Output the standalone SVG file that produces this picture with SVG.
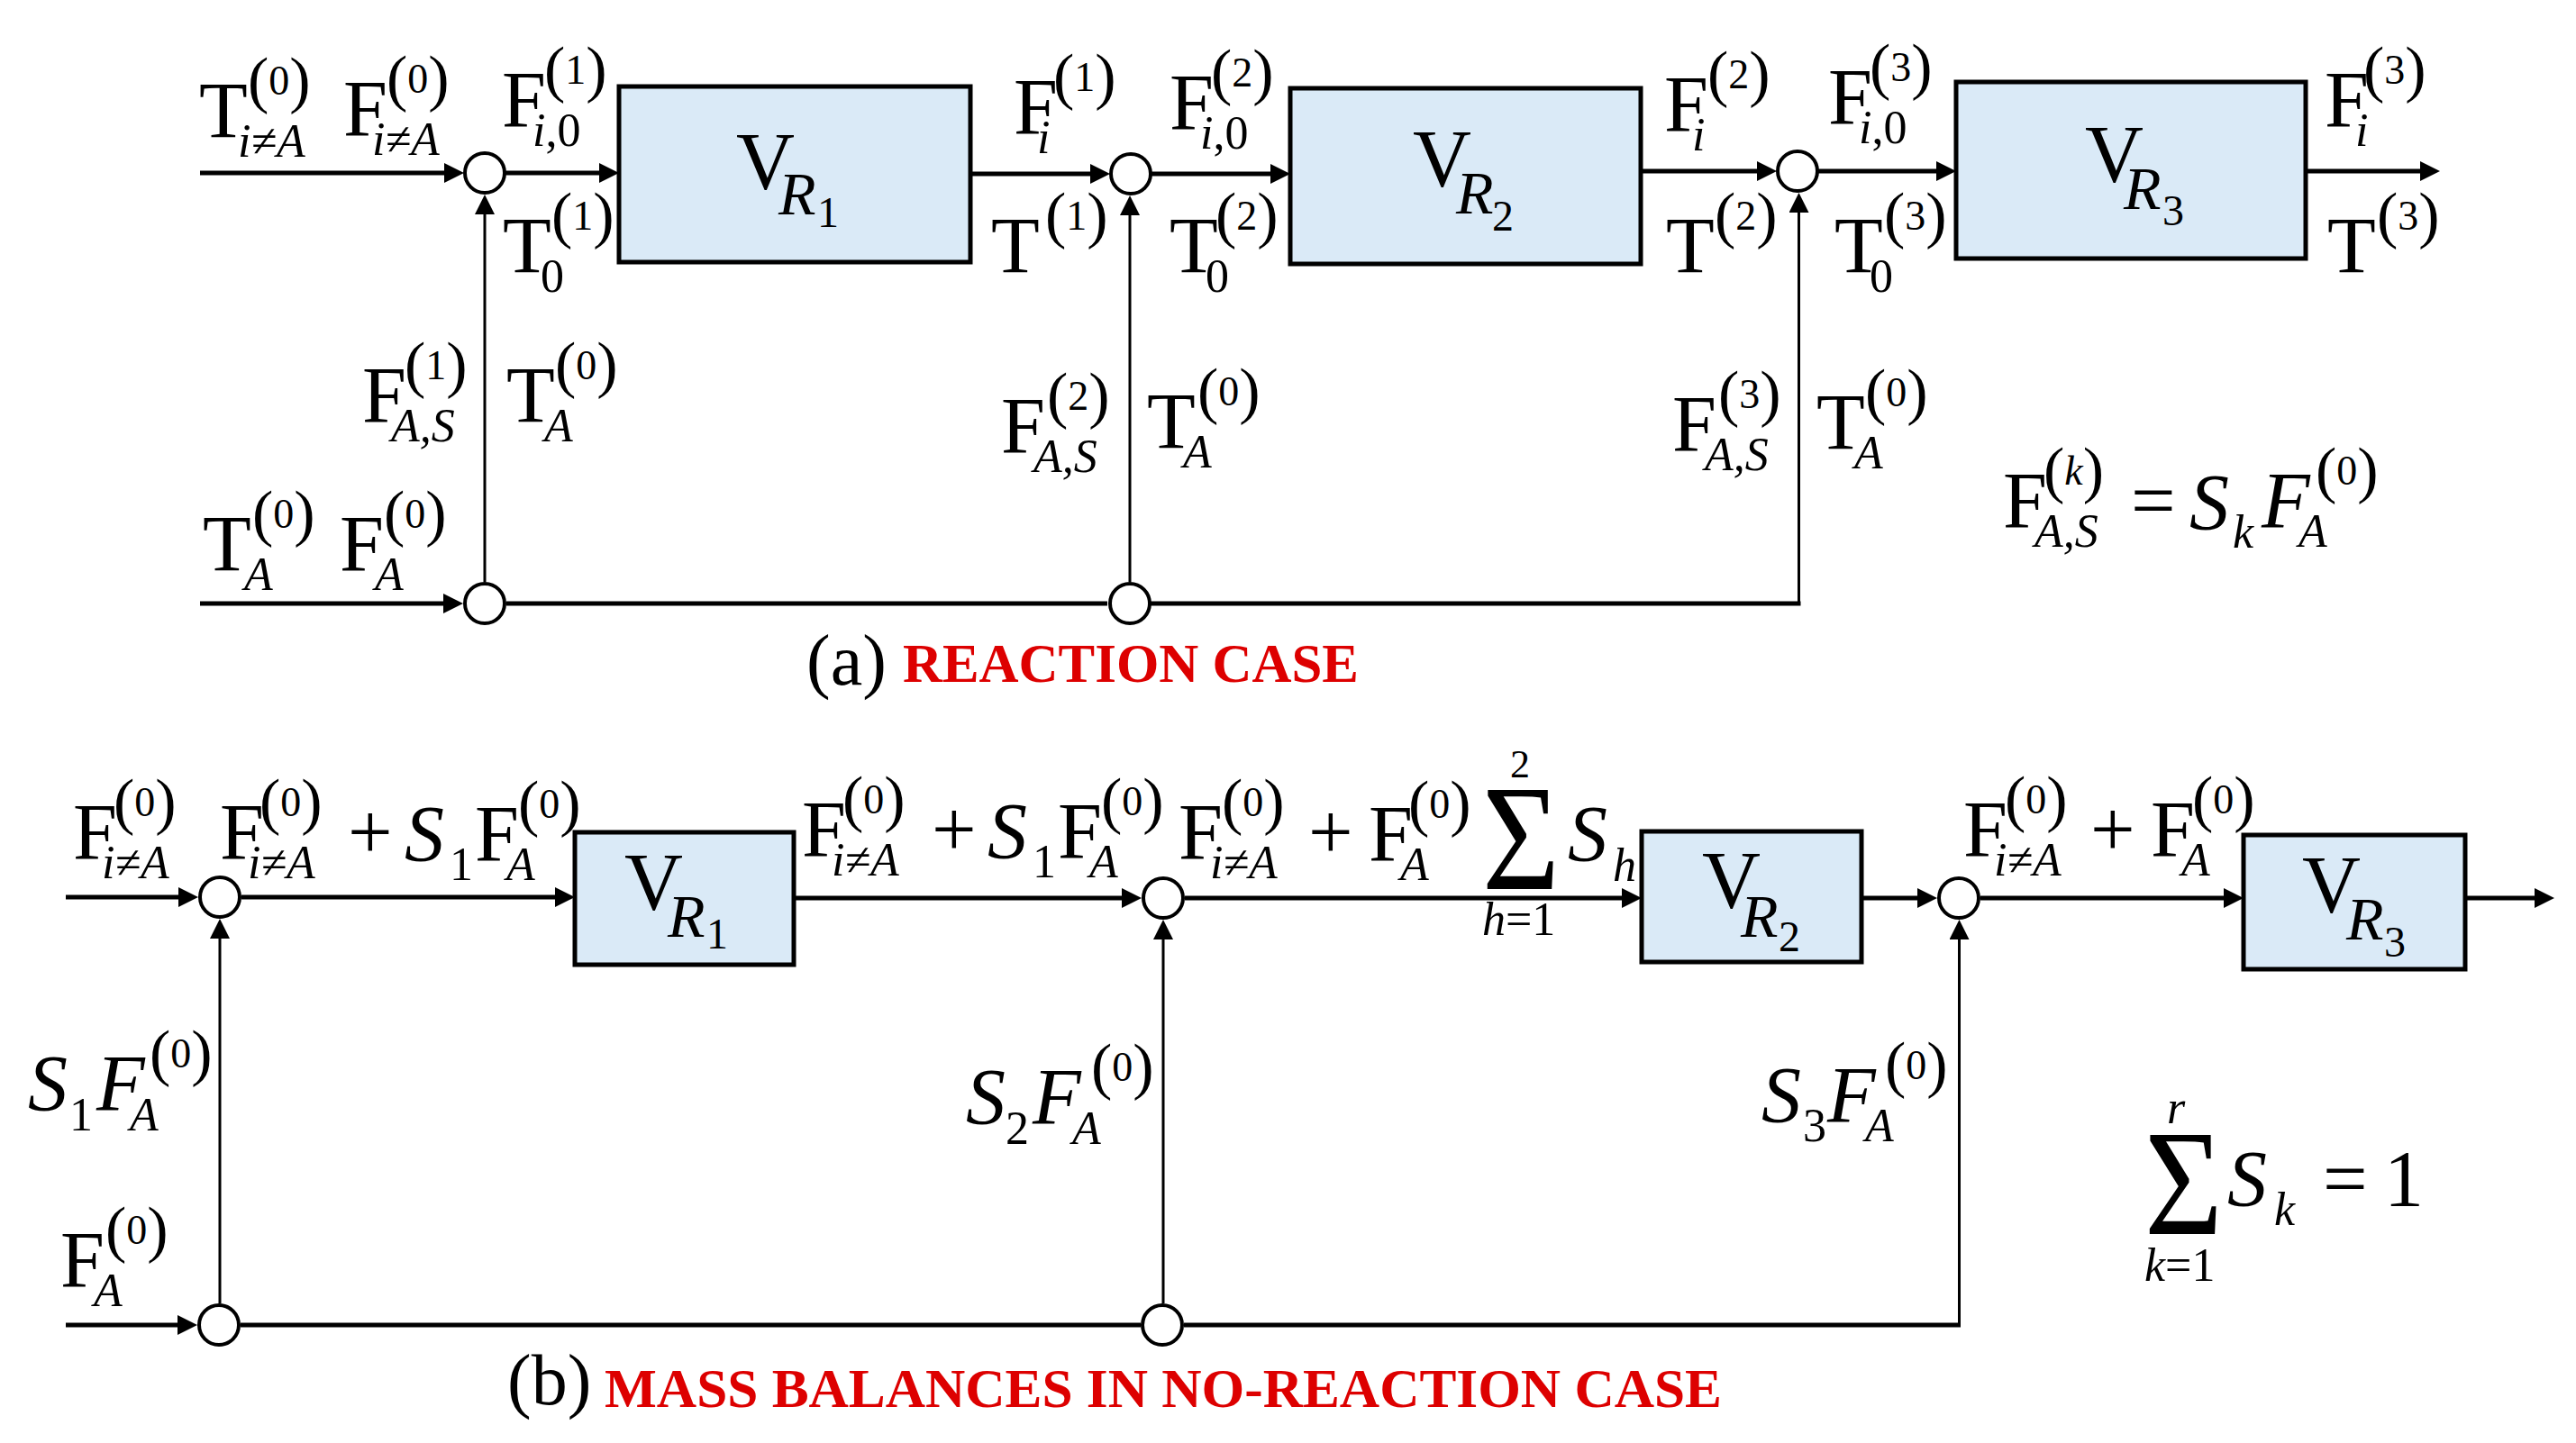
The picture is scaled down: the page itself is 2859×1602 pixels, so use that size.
<svg xmlns="http://www.w3.org/2000/svg" width="2859" height="1602" viewBox="0 0 2859 1602">
<style>
text { font-family: "Liberation Serif", "Times New Roman", serif; fill: #000; }
.m { font-size: 88px; }
.mi { font-size: 88px; font-style: italic; }
.p { font-size: 70px; }
.d { font-size: 46px; }
.di { font-size: 46px; font-style: italic; }
.b { font-size: 52px; font-style: italic; }
.bu { font-size: 52px; }
.v { font-size: 90px; }
.r { font-size: 68px; font-style: italic; }
.rn { font-size: 48px; }
.cap { font-size: 80px; }
.red { font-size: 62px; font-weight: bold; fill: #DD0000; }
.box { fill: #DAEAF7; stroke: #000; stroke-width: 5; }
.jn { fill: #fff; stroke: #000; stroke-width: 4; }
.w { fill: none; stroke: #000; stroke-width: 5; }
.wa { fill: none; stroke: #000; stroke-width: 5; marker-end: url(#ah); }
.t { fill: none; stroke: #000; stroke-width: 3; marker-end: url(#ah); }
</style>
<defs>
<marker id="ah" markerUnits="userSpaceOnUse" markerWidth="22" markerHeight="22" viewBox="0 0 22 22" refX="4" refY="11" orient="auto">
<path d="M0,0 L22,11 L0,22 z" fill="#000"/>
</marker>
</defs>
<rect width="2859" height="1602" fill="#fff"/>

<g id="connectors">
<!-- part (a) -->
<path class="wa" d="M222,192 H497"/>
<path class="wa" d="M561,192 H669"/>
<path class="wa" d="M1077,193 H1214"/>
<path class="wa" d="M1278,193 H1414"/>
<path class="wa" d="M1821,190 H1954"/>
<path class="wa" d="M2018,190 H2153"/>
<path class="wa" d="M2559,190 H2690"/>
<path class="wa" d="M222,670 H496"/>
<path class="w" d="M562,670 H1229"/>
<path class="w" d="M1277,670 H1998.5"/>
<path class="t" d="M1996.5,672 V232"/>
<path class="t" d="M538,646 V234"/>
<path class="t" d="M1254,646 V235"/>
<!-- part (b) -->
<path class="wa" d="M73,996 H202"/>
<path class="wa" d="M268,996 H620"/>
<path class="wa" d="M881,997 H1249"/>
<path class="wa" d="M1315,997 H1804"/>
<path class="wa" d="M2066,997 H2132"/>
<path class="wa" d="M2198,997 H2472"/>
<path class="wa" d="M2736,997 H2817"/>
<path class="wa" d="M73,1471 H201"/>
<path class="w" d="M267,1471 H1266"/>
<path class="w" d="M1314,1471 H2176"/>
<path class="t" d="M2174.5,1473 V1039"/>
<path class="t" d="M244,1447 V1038"/>
<path class="t" d="M1291,1447 V1039"/>
</g>

<!-- part (a) nodes -->
<g id="a-mix1"><circle class="jn" cx="538" cy="192" r="22"/></g>
<g id="a-mix2"><circle class="jn" cx="1255" cy="193" r="22"/></g>
<g id="a-mix3"><circle class="jn" cx="1995" cy="190" r="22"/></g>
<g id="a-split1"><circle class="jn" cx="538" cy="670" r="22"/></g>
<g id="a-split2"><circle class="jn" cx="1254" cy="670" r="22"/></g>
<g id="a-VR1"><rect class="box" x="687" y="96" width="390" height="195"/>
<text><tspan class="v" x="817" y="210">V</tspan><tspan class="r" x="864" y="238">R</tspan><tspan class="rn" x="907" y="252">1</tspan></text></g>
<g id="a-VR2"><rect class="box" x="1432" y="98" width="389" height="195"/>
<text><tspan class="v" x="1568" y="207">V</tspan><tspan class="r" x="1616" y="237">R</tspan><tspan class="rn" x="1656" y="256">2</tspan></text></g>
<g id="a-VR3"><rect class="box" x="2171" y="91" width="388" height="196"/>
<text><tspan class="v" x="2314" y="202">V</tspan><tspan class="r" x="2357" y="232">R</tspan><tspan class="rn" x="2400" y="250">3</tspan></text></g>

<!-- part (b) nodes -->
<g id="b-mix1"><circle class="jn" cx="244" cy="996" r="22"/></g>
<g id="b-mix2"><circle class="jn" cx="1291" cy="997" r="22"/></g>
<g id="b-mix3"><circle class="jn" cx="2174" cy="997" r="22"/></g>
<g id="b-split1"><circle class="jn" cx="243" cy="1471" r="22"/></g>
<g id="b-split2"><circle class="jn" cx="1290" cy="1471" r="22"/></g>
<g id="b-VR1"><rect class="box" x="638" y="924" width="243" height="147"/>
<text><tspan class="v" x="693" y="1010">V</tspan><tspan class="r" x="741" y="1040">R</tspan><tspan class="rn" x="784" y="1053">1</tspan></text></g>
<g id="b-VR2"><rect class="box" x="1822" y="923" width="244" height="145"/>
<text><tspan class="v" x="1889" y="1008">V</tspan><tspan class="r" x="1932" y="1040">R</tspan><tspan class="rn" x="1974" y="1056">2</tspan></text></g>
<g id="b-VR3"><rect class="box" x="2490" y="927" width="246" height="149"/>
<text><tspan class="v" x="2555" y="1013">V</tspan><tspan class="r" x="2604" y="1043">R</tspan><tspan class="rn" x="2646" y="1062">3</tspan></text></g>

<g id="labels-a">
<text><tspan class="m" x="221" y="152">T</tspan><tspan class="p" x="275" y="112">(</tspan><tspan class="d" y="105">0</tspan><tspan class="p" y="112">)</tspan><tspan class="b" x="264" y="174">i≠A</tspan></text>
<text><tspan class="m" x="381" y="150">F</tspan><tspan class="p" x="429" y="110">(</tspan><tspan class="d" y="103">0</tspan><tspan class="p" y="110">)</tspan><tspan class="b" x="413" y="172">i≠A</tspan></text>
<text><tspan class="m" x="557" y="140">F</tspan><tspan class="p" x="604" y="100">(</tspan><tspan class="d" y="93">1</tspan><tspan class="p" y="100">)</tspan><tspan class="b" x="591" y="162">i</tspan><tspan class="bu">,0</tspan></text>
<text><tspan class="m" x="558" y="302">T</tspan><tspan class="p" x="612" y="262">(</tspan><tspan class="d" y="255">1</tspan><tspan class="p" y="262">)</tspan><tspan class="bu" x="600" y="324">0</tspan></text>
<text><tspan class="m" x="1125" y="148">F</tspan><tspan class="p" x="1169" y="108">(</tspan><tspan class="d" y="101">1</tspan><tspan class="p" y="108">)</tspan><tspan class="b" x="1151" y="170">i</tspan></text>
<text><tspan class="m" x="1100" y="302">T</tspan><tspan class="p" x="1160" y="262">(</tspan><tspan class="d" y="255">1</tspan><tspan class="p" y="262">)</tspan></text>
<text><tspan class="m" x="1298" y="143">F</tspan><tspan class="p" x="1344" y="103">(</tspan><tspan class="d" y="96">2</tspan><tspan class="p" y="103">)</tspan><tspan class="b" x="1332" y="165">i</tspan><tspan class="bu">,0</tspan></text>
<text><tspan class="m" x="1298" y="302">T</tspan><tspan class="p" x="1349" y="262">(</tspan><tspan class="d" y="255">2</tspan><tspan class="p" y="262">)</tspan><tspan class="bu" x="1338" y="324">0</tspan></text>
<text><tspan class="m" x="1847" y="145">F</tspan><tspan class="p" x="1895" y="105">(</tspan><tspan class="d" y="98">2</tspan><tspan class="p" y="105">)</tspan><tspan class="b" x="1878" y="167">i</tspan></text>
<text><tspan class="m" x="1849" y="302">T</tspan><tspan class="p" x="1903" y="262">(</tspan><tspan class="d" y="255">2</tspan><tspan class="p" y="262">)</tspan></text>
<text><tspan class="m" x="2029" y="137">F</tspan><tspan class="p" x="2075" y="97">(</tspan><tspan class="d" y="90">3</tspan><tspan class="p" y="97">)</tspan><tspan class="b" x="2063" y="159">i</tspan><tspan class="bu">,0</tspan></text>
<text><tspan class="m" x="2036" y="302">T</tspan><tspan class="p" x="2091" y="262">(</tspan><tspan class="d" y="255">3</tspan><tspan class="p" y="262">)</tspan><tspan class="bu" x="2075" y="324">0</tspan></text>
<text><tspan class="m" x="2580" y="140">F</tspan><tspan class="p" x="2623" y="100">(</tspan><tspan class="d" y="93">3</tspan><tspan class="p" y="100">)</tspan><tspan class="b" x="2614" y="162">i</tspan></text>
<text><tspan class="m" x="2583" y="302">T</tspan><tspan class="p" x="2638" y="262">(</tspan><tspan class="d" y="255">3</tspan><tspan class="p" y="262">)</tspan></text>
<text><tspan class="m" x="402" y="468">F</tspan><tspan class="p" x="449" y="428">(</tspan><tspan class="d" y="421">1</tspan><tspan class="p" y="428">)</tspan><tspan class="b" x="434" y="490">A,S</tspan></text>
<text><tspan class="m" x="562" y="468">T</tspan><tspan class="p" x="616" y="428">(</tspan><tspan class="d" y="421">0</tspan><tspan class="p" y="428">)</tspan><tspan class="b" x="604" y="490">A</tspan></text>
<text><tspan class="m" x="1111" y="502">F</tspan><tspan class="p" x="1162" y="462">(</tspan><tspan class="d" y="455">2</tspan><tspan class="p" y="462">)</tspan><tspan class="b" x="1147" y="524">A,S</tspan></text>
<text><tspan class="m" x="1273" y="497">T</tspan><tspan class="p" x="1329" y="457">(</tspan><tspan class="d" y="450">0</tspan><tspan class="p" y="457">)</tspan><tspan class="b" x="1313" y="519">A</tspan></text>
<text><tspan class="m" x="1856" y="500">F</tspan><tspan class="p" x="1907" y="460">(</tspan><tspan class="d" y="453">3</tspan><tspan class="p" y="460">)</tspan><tspan class="b" x="1892" y="522">A,S</tspan></text>
<text><tspan class="m" x="2016" y="498">T</tspan><tspan class="p" x="2070" y="458">(</tspan><tspan class="d" y="451">0</tspan><tspan class="p" y="458">)</tspan><tspan class="b" x="2058" y="520">A</tspan></text>
<text><tspan class="m" x="225" y="633">T</tspan><tspan class="p" x="280" y="593">(</tspan><tspan class="d" y="586">0</tspan><tspan class="p" y="593">)</tspan><tspan class="b" x="271" y="655">A</tspan></text>
<text><tspan class="m" x="377" y="633">F</tspan><tspan class="p" x="426" y="593">(</tspan><tspan class="d" y="586">0</tspan><tspan class="p" y="593">)</tspan><tspan class="b" x="416" y="655">A</tspan></text>
<text><tspan class="m" x="2223" y="585">F</tspan><tspan class="p" x="2268" y="545">(</tspan><tspan class="di" y="538">k</tspan><tspan class="p" y="545">)</tspan><tspan class="b" x="2258" y="607">A,S</tspan><tspan class="m" x="2365" y="585">=</tspan><tspan class="mi" x="2430" y="587">S</tspan><tspan class="b" x="2478" y="608">k</tspan><tspan class="mi" x="2510" y="585">F</tspan><tspan class="p" x="2570" y="545">(</tspan><tspan class="d" y="538">0</tspan><tspan class="p" y="545">)</tspan><tspan class="b" x="2551" y="607">A</tspan></text>
<text><tspan class="cap" x="895" y="760">(a)</tspan></text>
<text class="red" x="1002" y="757" textLength="506" lengthAdjust="spacingAndGlyphs">REACTION CASE</text>
</g>

<g id="labels-b">
<text><tspan class="m" x="81" y="953">F</tspan><tspan class="p" x="126" y="913">(</tspan><tspan class="d" y="906">0</tspan><tspan class="p" y="913">)</tspan><tspan class="b" x="113" y="975">i≠A</tspan></text>
<text><tspan class="m" x="244" y="953">F</tspan><tspan class="p" x="288" y="913">(</tspan><tspan class="d" y="906">0</tspan><tspan class="p" y="913">)</tspan><tspan class="b" x="275" y="975">i≠A</tspan><tspan class="m" x="386" y="953">+</tspan><tspan class="mi" x="449" y="955">S</tspan><tspan class="bu" x="499" y="977">1</tspan><tspan class="m" x="527" y="955">F</tspan><tspan class="p" x="575" y="915">(</tspan><tspan class="d" y="908">0</tspan><tspan class="p" y="915">)</tspan><tspan class="b" x="562" y="977">A</tspan></text>
<text><tspan class="m" x="890" y="950">F</tspan><tspan class="p" x="935" y="910">(</tspan><tspan class="d" y="903">0</tspan><tspan class="p" y="910">)</tspan><tspan class="b" x="923" y="972">i≠A</tspan><tspan class="m" x="1034" y="950">+</tspan><tspan class="mi" x="1096" y="952">S</tspan><tspan class="bu" x="1146" y="974">1</tspan><tspan class="m" x="1174" y="952">F</tspan><tspan class="p" x="1222" y="912">(</tspan><tspan class="d" y="905">0</tspan><tspan class="p" y="912">)</tspan><tspan class="b" x="1209" y="974">A</tspan></text>
<text><tspan class="m" x="1308" y="953">F</tspan><tspan class="p" x="1356" y="913">(</tspan><tspan class="d" y="906">0</tspan><tspan class="p" y="913">)</tspan><tspan class="b" x="1343" y="975">i≠A</tspan><tspan class="m" x="1452" y="953">+</tspan><tspan class="m" x="1519" y="955">F</tspan><tspan class="p" x="1563" y="915">(</tspan><tspan class="d" y="908">0</tspan><tspan class="p" y="915">)</tspan><tspan class="b" x="1554" y="977">A</tspan></text>
<text x="1645" y="987" font-size="168" textLength="86" lengthAdjust="spacingAndGlyphs">Σ</text>
<text><tspan x="1676" y="863" font-size="44">2</tspan><tspan class="b" x="1645" y="1038">h</tspan><tspan class="bu">=1</tspan><tspan class="mi" x="1740" y="955">S</tspan><tspan class="b" x="1790" y="978">h</tspan></text>
<text><tspan class="m" x="2179" y="950">F</tspan><tspan class="p" x="2225" y="910">(</tspan><tspan class="d" y="903">0</tspan><tspan class="p" y="910">)</tspan><tspan class="b" x="2213" y="972">i≠A</tspan><tspan class="m" x="2320" y="950">+</tspan><tspan class="m" x="2387" y="950">F</tspan><tspan class="p" x="2433" y="910">(</tspan><tspan class="d" y="903">0</tspan><tspan class="p" y="910">)</tspan><tspan class="b" x="2421" y="972">A</tspan></text>
<text><tspan class="mi" x="31" y="1232">S</tspan><tspan class="bu" x="77" y="1255">1</tspan><tspan class="mi" x="107" y="1232">F</tspan><tspan class="p" x="166" y="1192">(</tspan><tspan class="d" y="1185">0</tspan><tspan class="p" y="1192">)</tspan><tspan class="b" x="144" y="1255">A</tspan></text>
<text><tspan class="mi" x="1072" y="1247">S</tspan><tspan class="bu" x="1116" y="1270">2</tspan><tspan class="mi" x="1146" y="1247">F</tspan><tspan class="p" x="1211" y="1207">(</tspan><tspan class="d" y="1200">0</tspan><tspan class="p" y="1207">)</tspan><tspan class="b" x="1190" y="1270">A</tspan></text>
<text><tspan class="mi" x="1955" y="1245">S</tspan><tspan class="bu" x="2001" y="1267">3</tspan><tspan class="mi" x="2028" y="1245">F</tspan><tspan class="p" x="2092" y="1205">(</tspan><tspan class="d" y="1198">0</tspan><tspan class="p" y="1205">)</tspan><tspan class="b" x="2070" y="1267">A</tspan></text>
<text><tspan class="m" x="67" y="1428">F</tspan><tspan class="p" x="117" y="1388">(</tspan><tspan class="d" y="1381">0</tspan><tspan class="p" y="1388">)</tspan><tspan class="b" x="104" y="1450">A</tspan></text>
<text x="2380" y="1370" font-size="168" textLength="87" lengthAdjust="spacingAndGlyphs">Σ</text>
<text><tspan class="b" x="2405" y="1247">r</tspan><tspan class="b" x="2380" y="1422">k</tspan><tspan class="bu">=1</tspan><tspan class="mi" x="2472" y="1338">S</tspan><tspan class="b" x="2524" y="1360">k</tspan><tspan class="m" x="2578" y="1338">=</tspan><tspan class="m" x="2646" y="1338">1</tspan></text>
<text><tspan class="cap" x="563" y="1559">(b)</tspan></text>
<text class="red" x="671" y="1562" textLength="1240" lengthAdjust="spacingAndGlyphs">MASS BALANCES IN NO-REACTION CASE</text>
</g>
</svg>
